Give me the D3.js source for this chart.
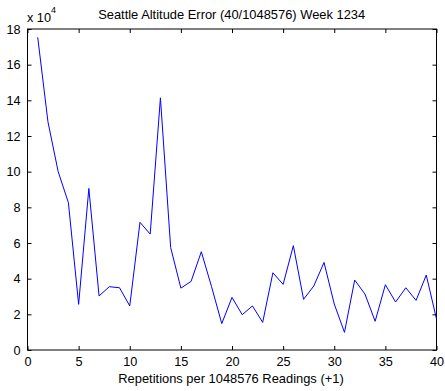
<!DOCTYPE html>
<html><head><meta charset="utf-8">
<script src="https://cdn.jsdelivr.net/npm/d3@7"></script>
<style>body{margin:0;background:#fff}svg{display:block}text{font-family:"Liberation Sans",Arial,sans-serif;fill:#000}</style>
</head><body>
<svg id="c" width="445" height="391"></svg>
<script>
const title = "Seattle Altitude Error (40/1048576) Week 1234";
const xLabel = "Repetitions per 1048576 Readings (+1)";
const xTicks = [0,5,10,15,20,25,30,35,40];
const yTicks = [0,2,4,6,8,10,12,14,16,18];
const reps = d3.range(1,41);
const errors = [17.53,12.8,10.0,8.26,2.56,9.06,3.03,3.55,3.49,2.47,
                7.16,6.50,14.14,5.75,3.47,3.85,5.51,3.55,1.48,2.95,
                1.98,2.47,1.55,4.33,3.68,5.85,2.84,3.59,4.91,2.58,
                0.99,3.92,3.14,1.61,3.66,2.69,3.49,2.78,4.20,1.74];

const svg = d3.select("#c");
const L=27.5, R=436.5, T=29, B=350;
const x = d3.scaleLinear().domain([0,40]).range([L,R]);
const y = d3.scaleLinear().domain([0,18]).range([B,T]);
const fs = 12.7;

svg.append("g").attr("transform",`translate(0,${B})`)
  .call(d3.axisBottom(x).tickValues(xTicks).tickSizeInner(-4).tickSizeOuter(0).tickPadding(7))
  .call(g=>{g.select(".domain").remove();g.selectAll("text").attr("font-size",fs).attr("font-family",null);});
svg.append("g").attr("transform",`translate(0,${T})`)
  .call(d3.axisTop(x).tickValues(xTicks).tickSizeInner(-4).tickSizeOuter(0).tickFormat(""))
  .call(g=>g.select(".domain").remove());
svg.append("g").attr("transform",`translate(${L},0)`)
  .call(d3.axisLeft(y).tickValues(yTicks).tickSizeInner(-4).tickSizeOuter(0).tickPadding(7))
  .call(g=>{g.select(".domain").remove();g.selectAll("text").attr("font-size",fs).attr("font-family",null);});
svg.append("g").attr("transform",`translate(${R},0)`)
  .call(d3.axisRight(y).tickValues(yTicks).tickSizeInner(-4).tickSizeOuter(0).tickFormat(""))
  .call(g=>g.select(".domain").remove());

svg.append("rect").attr("x",L).attr("y",T).attr("width",R-L).attr("height",B-T)
  .attr("fill","none").attr("stroke","#000").attr("stroke-width",1);

svg.append("path").datum(reps)
  .attr("fill","none").attr("stroke","#0000ff").attr("stroke-width",1)
  .attr("d", d3.line().x(d=>x(d)).y((d,i)=>y(errors[i])));

svg.append("text").attr("x",231.7).attr("y",18.5).attr("text-anchor","middle").attr("font-size",12.9).text(title);
svg.append("text").attr("x",231).attr("y",383).attr("text-anchor","middle").attr("font-size",12.9).text(xLabel);
const ex = svg.append("text").attr("x",27).attr("y",22).attr("font-size",fs);
ex.append("tspan").text("x 10");
ex.append("tspan").attr("dy",-9).attr("font-size",9).text("4");
</script>
</body></html>
